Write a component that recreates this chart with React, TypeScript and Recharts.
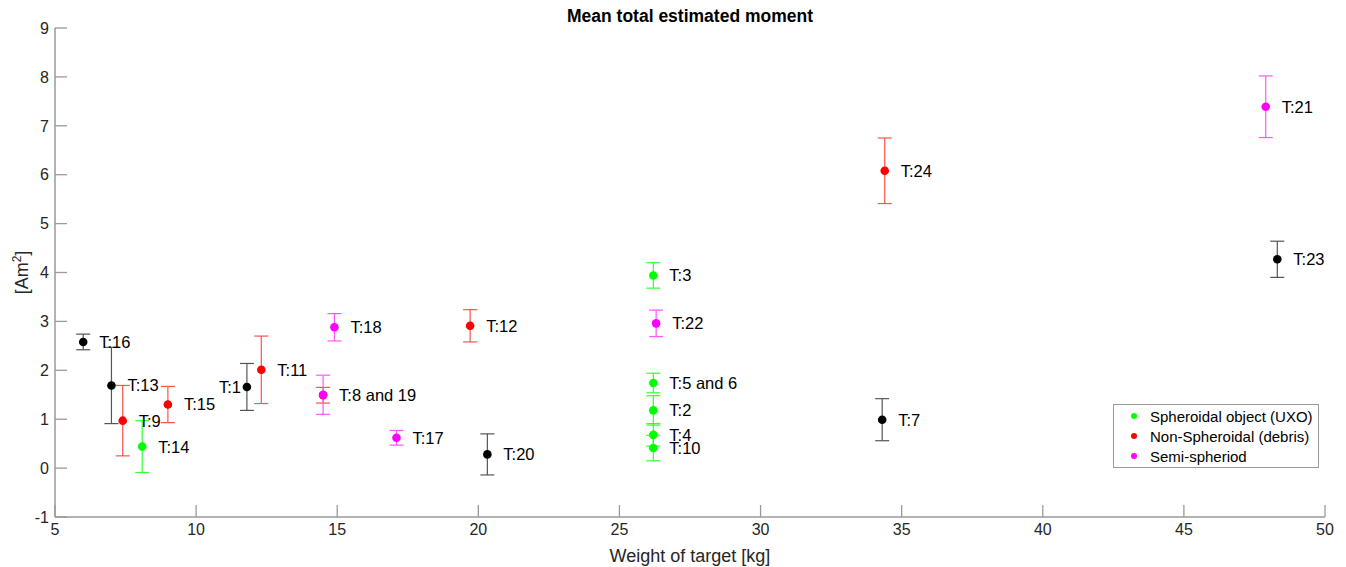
import React from 'react';
import { ScatterChart, Scatter, XAxis, YAxis, ErrorBar, Legend } from 'recharts';

interface Target {
  label: string;
  weight: number;
  moment: number;
  err: number;
}

// values: weight [kg], mean moment [Am^2], error half-width
const uxo: Target[] = [
  { label: 'T:14', weight: 8.09, moment: 0.44, err: 0.53 },
  { label: 'T:3', weight: 26.2, moment: 3.94, err: 0.26 },
  { label: 'T:5 and 6', weight: 26.2, moment: 1.74, err: 0.2 },
  { label: 'T:2', weight: 26.2, moment: 1.18, err: 0.3 },
  { label: 'T:4', weight: 26.2, moment: 0.68, err: 0.23 },
  { label: 'T:10', weight: 26.2, moment: 0.41, err: 0.26 },
];

const debris: Target[] = [
  { label: 'T:9', weight: 7.4, moment: 0.97, err: 0.72 },
  { label: 'T:15', weight: 9.0, moment: 1.3, err: 0.37 },
  { label: 'T:11', weight: 12.31, moment: 2.01, err: 0.69 },
  { label: '', weight: 14.5, moment: 1.49, err: 0.16 },
  { label: 'T:12', weight: 19.71, moment: 2.91, err: 0.33 },
  { label: 'T:24', weight: 34.4, moment: 6.08, err: 0.67 },
];

const semi: Target[] = [
  { label: 'T:8 and 19', weight: 14.5, moment: 1.5, err: 0.4 },
  { label: 'T:18', weight: 14.9, moment: 2.88, err: 0.28 },
  { label: 'T:17', weight: 17.1, moment: 0.62, err: 0.15 },
  { label: 'T:22', weight: 26.3, moment: 2.96, err: 0.27 },
  { label: 'T:21', weight: 47.9, moment: 7.39, err: 0.63 },
];

const other: Target[] = [
  { label: 'T:16', weight: 6.0, moment: 2.58, err: 0.16 },
  { label: 'T:13', weight: 7.0, moment: 1.69, err: 0.78 },
  { label: 'T:1', weight: 11.8, moment: 1.66, err: 0.48 },
  { label: 'T:20', weight: 20.32, moment: 0.28, err: 0.42 },
  { label: 'T:7', weight: 34.31, moment: 0.99, err: 0.43 },
  { label: 'T:23', weight: 48.31, moment: 4.27, err: 0.37 },
];

const X_TICKS = [5, 10, 15, 20, 25, 30, 35, 40, 45, 50];
const Y_TICKS = [-1, 0, 1, 2, 3, 4, 5, 6, 7, 8, 9];
const LEFT_LABELS = ['T:1'];
const LEGEND_ORDER = ['Spheroidal object (UXO)', 'Non-Spheroidal (debris)', 'Semi-spheriod'];

const FONT = 'Arial, "Liberation Sans", sans-serif';
const AXIS = '#9a9a9a';
const TEXT = '#262626';

const makeDot = (color: string) => (props: any) => {
  const { cx, cy, payload } = props;
  const left = LEFT_LABELS.includes(payload.label);
  return (
    <g>
      <circle cx={cx} cy={cy} r={4.3} fill={color} />
      {payload.label ? (
        <text
          x={left ? cx - 6 : cx + 16}
          y={cy}
          dy="0.36em"
          textAnchor={left ? 'end' : 'start'}
          fontSize={16.5}
          fontFamily={FONT}
          fill="#000"
        >
          {payload.label}
        </text>
      ) : null}
    </g>
  );
};

const XTick = (props: any) => {
  const { x, y, payload } = props;
  return (
    <g>
      <line x1={x} y1={y} x2={x} y2={y - 12} stroke={AXIS} strokeWidth={1.3} />
      <text x={x} y={y + 18} textAnchor="middle" fontSize={16} fontFamily={FONT} fill={TEXT}>
        {payload.value}
      </text>
    </g>
  );
};

const YTick = (props: any) => {
  const { x, y, payload } = props;
  return (
    <g>
      <line x1={x} y1={y} x2={x + 12} y2={y} stroke={AXIS} strokeWidth={1.3} />
      <text x={x - 6} y={y} dy="0.36em" textAnchor="end" fontSize={16} fontFamily={FONT} fill={TEXT}>
        {payload.value}
      </text>
    </g>
  );
};

const LegendBox = (props: any) => {
  const items = (props.payload || [])
    .filter((p: any) => p.type !== 'none')
    .sort((a: any, b: any) => LEGEND_ORDER.indexOf(a.value) - LEGEND_ORDER.indexOf(b.value));
  return (
    <div
      style={{
        border: '1px solid #9a9a9a',
        background: '#fff',
        width: 204,
        padding: '1px 0 1px 0',
        fontFamily: FONT,
        fontSize: 15,
        color: '#000',
        boxSizing: 'content-box',
      }}
    >
      {items.map((it: any) => (
        <div key={it.value} style={{ display: 'flex', alignItems: 'center', height: 20, whiteSpace: 'nowrap' }}>
          <span
            style={{
              display: 'inline-block',
              width: 6,
              height: 6,
              borderRadius: 3,
              background: it.color,
              marginLeft: 17,
              marginRight: 13,
              flexShrink: 0,
            }}
          />
          {it.value}
        </div>
      ))}
    </div>
  );
};

const App: React.FC = () => {
  return (
    <div style={{ position: 'absolute', left: 0, top: 0, width: 1346, height: 567, background: '#fff' }}>
      <div
        style={{
          position: 'absolute',
          left: 0,
          width: 1380,
          top: 6,
          textAlign: 'center',
          fontFamily: FONT,
          fontWeight: 'bold',
          fontSize: 17.5,
          color: '#000',
        }}
      >
        Mean total estimated moment
      </div>
      <ScatterChart width={1346} height={567} margin={{ top: 28, right: 21, left: 0, bottom: 0 }}>
        <XAxis
          dataKey="weight"
          type="number"
          domain={[5, 50]}
          ticks={X_TICKS}
          allowDataOverflow
          height={50}
          tickSize={0}
          tickMargin={0}
          tickLine={false}
          tick={<XTick />}
          axisLine={{ stroke: AXIS, strokeWidth: 1.5 }}
          label={{
            content: (p: any) => {
              const vb = p.viewBox;
              return (
                <text
                  x={vb.x + vb.width / 2}
                  y={vb.y + 45}
                  textAnchor="middle"
                  fontSize={18}
                  fontFamily={FONT}
                  fill={TEXT}
                >
                  Weight of target [kg]
                </text>
              );
            },
          }}
        />
        <YAxis
          dataKey="moment"
          type="number"
          domain={[-1, 9]}
          ticks={Y_TICKS}
          allowDataOverflow
          width={55}
          tickSize={0}
          tickMargin={0}
          tickLine={false}
          tick={<YTick />}
          axisLine={{ stroke: AXIS, strokeWidth: 1.5 }}
          label={{
            content: (p: any) => {
              const vb = p.viewBox;
              const cy = vb.y + vb.height / 2;
              return (
                <text
                  transform={`translate(28, ${cy}) rotate(-90)`}
                  textAnchor="middle"
                  fontSize={18}
                  fontFamily={FONT}
                  fill={TEXT}
                >
                  [Am<tspan dy={-7} fontSize={12}>2</tspan>
                  <tspan dy={7}>]</tspan>
                </text>
              );
            },
          }}
        />
        <Legend
          layout="vertical"
          align="center"
          verticalAlign="middle"
          content={<LegendBox />}
          wrapperStyle={{ position: 'absolute', left: 1113, top: 404, width: 206 }}
        />
        <Scatter
          name="Unknown"
          data={other}
          fill="#000"
          legendType="none"
          shape={makeDot('#000')}
          isAnimationActive={false}
        >
          <ErrorBar dataKey="err" direction="y" width={7} stroke="#555" strokeWidth={1.2} isAnimationActive={false} />
        </Scatter>
        <Scatter
          name="Spheroidal object (UXO)"
          data={uxo}
          fill="#00ff00"
          shape={makeDot('#00ff00')}
          isAnimationActive={false}
        >
          <ErrorBar dataKey="err" direction="y" width={7} stroke="#33ff33" strokeWidth={1.2} isAnimationActive={false} />
        </Scatter>
        <Scatter
          name="Non-Spheroidal (debris)"
          data={debris}
          fill="#ff0000"
          shape={makeDot('#ff0000')}
          isAnimationActive={false}
        >
          <ErrorBar dataKey="err" direction="y" width={7} stroke="#ff5050" strokeWidth={1.2} isAnimationActive={false} />
        </Scatter>
        <Scatter
          name="Semi-spheriod"
          data={semi}
          fill="#ff00ff"
          shape={makeDot('#ff00ff')}
          isAnimationActive={false}
        >
          <ErrorBar dataKey="err" direction="y" width={7} stroke="#ff55ff" strokeWidth={1.2} isAnimationActive={false} />
        </Scatter>
      </ScatterChart>
    </div>
  );
};

export default App;
